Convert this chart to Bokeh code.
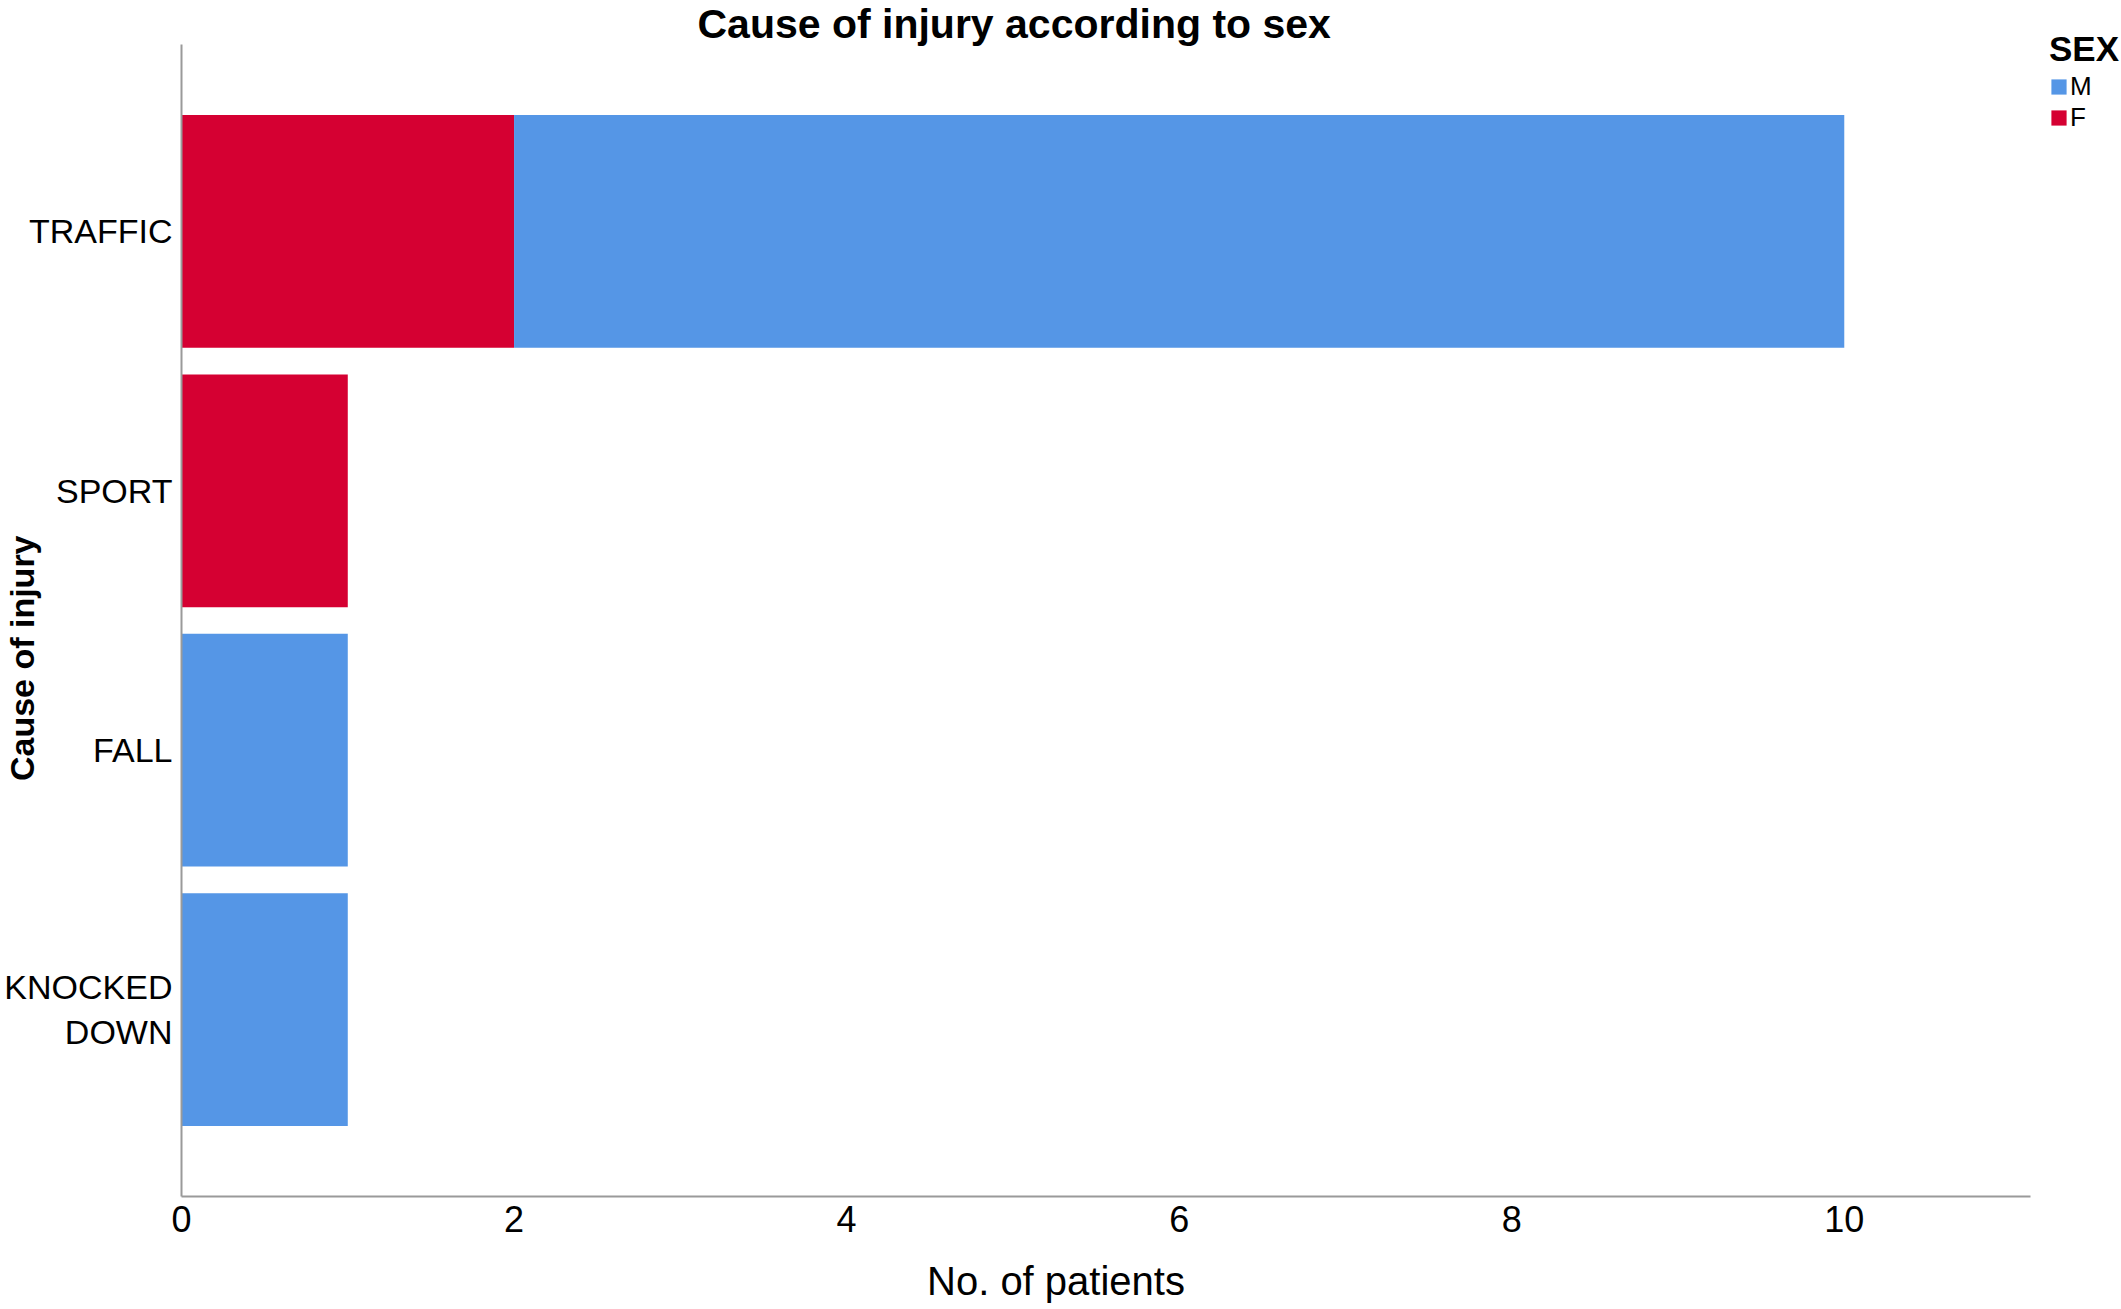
import math
from bokeh.plotting import figure
from bokeh.models import ColumnDataSource, FactorRange, Range1d, Legend, LegendItem, FixedTicker, Title
from bokeh.embed import file_html
from bokeh.resources import INLINE

# ---- data ----
causes = ["KNOCKED\nDOWN", "FALL", "SPORT", "TRAFFIC"]
female = [0, 0, 1, 2]
male = [1, 1, 0, 8]
x_ticks = [0, 2, 4, 6, 8, 10]
sex_labels = ["M", "F"]
title_text = "Cause of injury according to sex"
x_title = "No. of patients"
y_title = "Cause of injury"

BLUE = "#5596E6"
RED = "#D50032"
FONT = "Liberation Sans"
NBSP = "\u00a0"

src = ColumnDataSource(dict(cause=causes, F=female, M=male))

p = figure(
    frame_width=1849, frame_height=1152,
    y_range=FactorRange(factors=causes, range_padding=0.22, range_padding_units="absolute"),
    x_range=Range1d(0, 11.12),
    output_backend="svg", toolbar_location=None,
    min_border_top=0, min_border_right=88, min_border_left=0, min_border_bottom=0,
    title=None,
)
p.outline_line_color = None
p.xgrid.visible = False
p.ygrid.visible = False

rF, rM = p.hbar_stack(["F", "M"], y="cause", height=0.897, color=[RED, BLUE], source=src, line_width=0)

for ax in (p.xaxis[0], p.yaxis[0]):
    ax.axis_line_color = "#9a9a9a"
    ax.axis_line_width = 2
    ax.major_tick_line_color = None
    ax.minor_tick_line_color = None
    ax.major_tick_out = 0
    ax.major_tick_in = 0
    ax.major_label_text_font = FONT
    ax.major_label_text_color = "black"
    ax.major_label_standoff = 9
    ax.axis_label_text_color = "black"
    ax.axis_label_text_font = FONT

p.yaxis.major_label_text_font_size = "34px"
p.xaxis.major_label_text_font_size = "36px"

p.xaxis.ticker = FixedTicker(ticks=x_ticks)
# trailing no-break spaces shift the centred label slightly, as in the original
p.xaxis.axis_label = x_title + NBSP * 9
p.xaxis.axis_label_text_font_size = "40px"
p.xaxis.axis_label_text_font_style = "normal"
p.xaxis.axis_label_standoff = 24

p.yaxis.axis_label = y_title + NBSP * 8
p.yaxis.axis_label_text_font_size = "34px"
p.yaxis.axis_label_text_font_style = "bold"
p.yaxis.axis_label_standoff = -40

title = Title(text=title_text, align="left", offset=516, standoff=-4,
              text_font=FONT, text_font_size="41px", text_font_style="bold", text_color="black")
p.add_layout(title, "above")

legend = Legend(
    items=[LegendItem(label=sex_labels[0], renderers=[rM]), LegendItem(label=sex_labels[1], renderers=[rF])],
    title="SEX", title_text_font=FONT, title_text_font_size="35px", title_text_font_style="bold",
    title_text_color="black", title_standoff=2,
    label_text_font=FONT, label_text_font_size="26px", label_text_color="black", label_standoff=2,
    label_text_line_height=0.9,
    glyph_width=19, glyph_height=19, label_height=19, spacing=0,
    padding=0, margin=0, border_line_color=None,
    location=(19, 1063),
)
p.add_layout(legend, "right")

open("out.html", "w").write(file_html(p, INLINE))
